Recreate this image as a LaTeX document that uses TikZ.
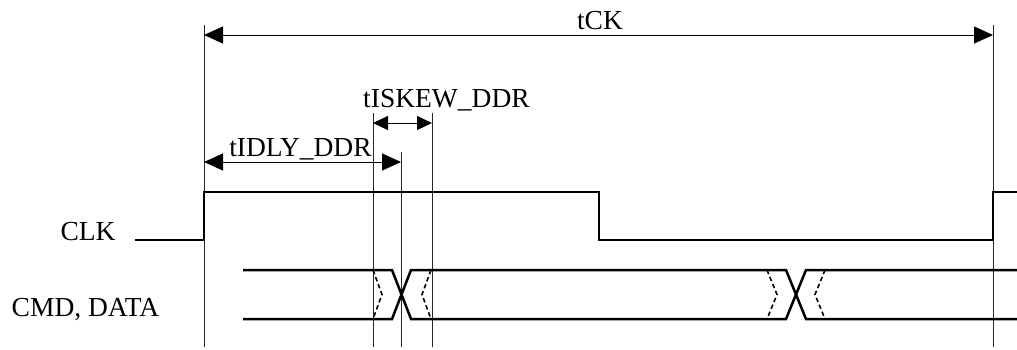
\documentclass[tikz,border=0pt]{standalone}
\usepackage{fontspec}
\setmainfont{Liberation Serif}
\usetikzlibrary{arrows.meta}
\begin{document}
\begin{tikzpicture}[x=1pt,y=-1pt,
  lbl/.style={inner sep=0pt,anchor=base,font=\fontsize{27.5}{30}\selectfont},
  guide/.style={line width=1pt,draw=black!85},
  sig/.style={line width=2.5pt,line join=miter},
  dim/.style={line width=1pt,{Triangle[length=19pt,width=17pt]}-{Triangle[length=19pt,width=17pt]}},
  dimsmall/.style={line width=1pt,{Triangle[length=15pt,width=14pt]}-{Triangle[length=15pt,width=14pt]}},
  skew/.style={line width=1.6pt,dash pattern=on 4.5pt off 3pt}]
\useasboundingbox (0,0) rectangle (1017,349);
% guide coordinates
\coordinate (L0) at (204,25);  \coordinate (L1) at (204,347);
\coordinate (R0) at (993,25);  \coordinate (R1) at (993,347);
\coordinate (A0) at (373,113); \coordinate (A1) at (373,347);
\coordinate (B0) at (401,152); \coordinate (B1) at (401,347);
\coordinate (C0) at (432,113); \coordinate (C1) at (432,347);
\draw[guide] (L0) -- (L1);
\draw[guide] (R0) -- (R1);
\draw[guide] (A0) -- (A1);
\draw[guide] (B0) -- (B1);
\draw[guide] (C0) -- (C1);
% dimension arrows
\coordinate (tckL) at (204,35);  \coordinate (tckR) at (993,35);
\coordinate (skL) at (373,123);  \coordinate (skR) at (432,123);
\coordinate (dlL) at (204,162);  \coordinate (dlR) at (401,162);
\draw[dim] (tckL) -- (tckR);
\draw[dimsmall] (skL) -- (skR);
\draw[dim] (dlL) -- (dlR);
\node[lbl] (tck) at (600,29) {tCK};
\node[lbl] (tskew) at (446.5,107) {tISKEW\_DDR};
\node[lbl] (tidly) at (300.5,156) {tIDLY\_DDR};
% signal labels
\node[lbl] (clk) at (88,240) {CLK};
\node[lbl] (cmd) at (85.5,316.5) {CMD, DATA};
% CLK waveform
\draw[sig] (135,240) -- (204,240) -- (204,192) -- (599,192) -- (599,240) -- (993,240) -- (993,192) -- (1017,192);
% data waveform
\draw[sig] (243,270) -- (392,270) -- (411,319) -- (786,319) -- (806,270) -- (1017,270);
\draw[sig] (243,319) -- (392,319) -- (411,270) -- (786,270) -- (806,319) -- (1017,319);
% skew marks
\draw[skew] (373,270) -- (382,294.5) -- (373,319);
\draw[skew] (431,270) -- (422,294.5) -- (431,319);
\draw[skew] (767,270) -- (777,294.5) -- (767,319);
\draw[skew] (825,270) -- (815,294.5) -- (825,319);
\end{tikzpicture}
\end{document}
